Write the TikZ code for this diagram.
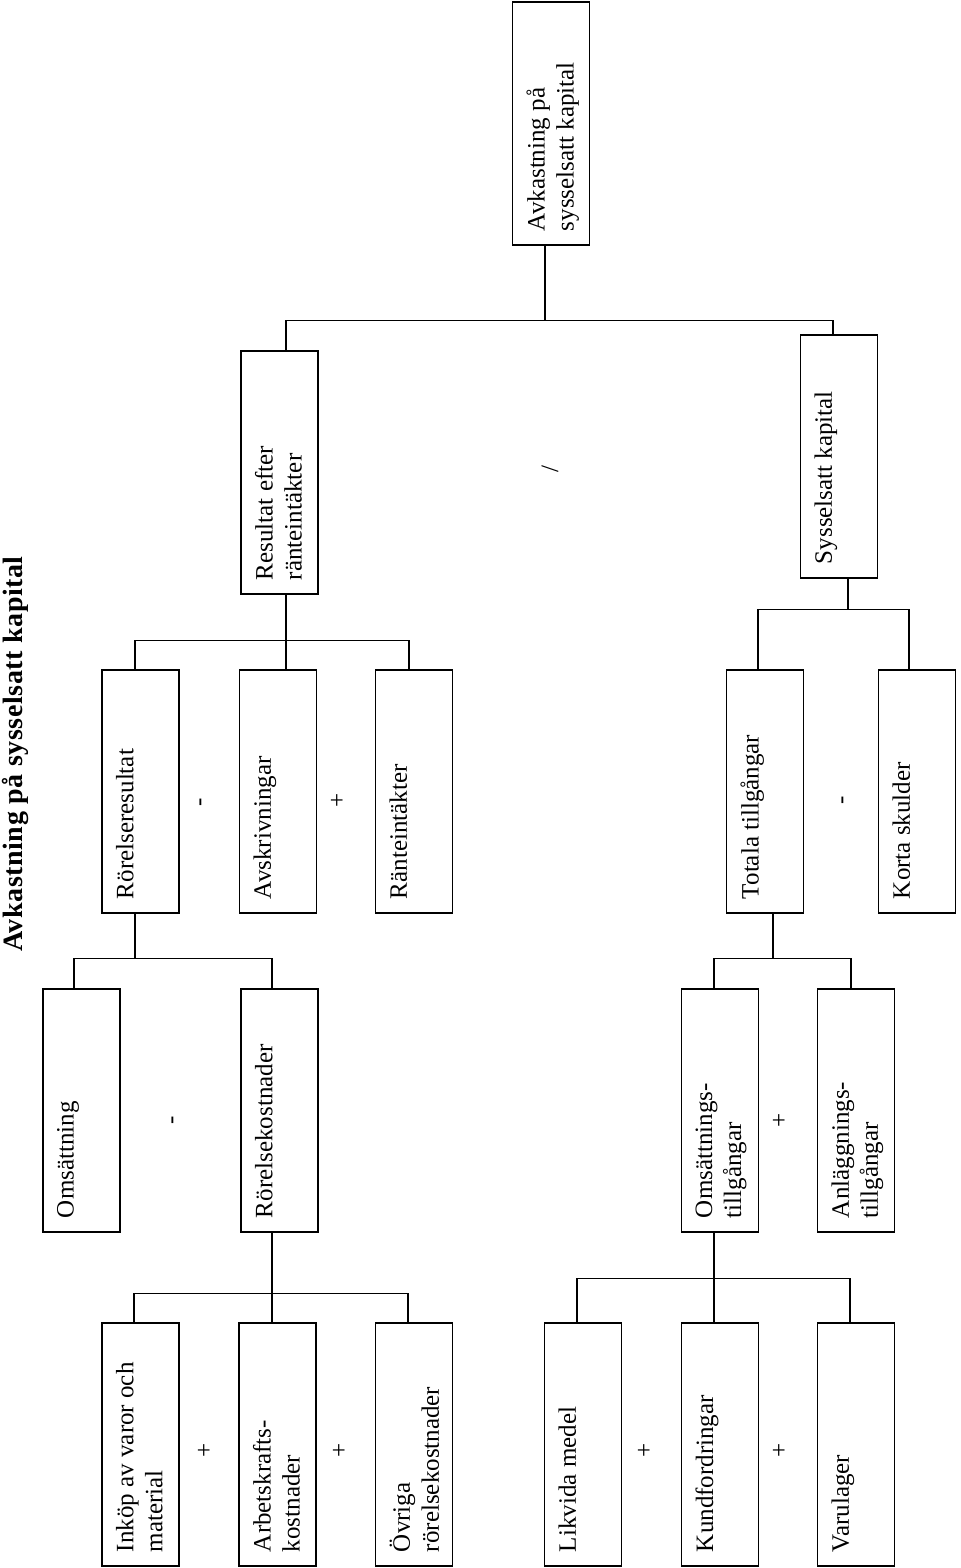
\documentclass[tikz,border=0pt]{standalone}
\usepackage{fontspec}
\setmainfont{Liberation Serif}
\usetikzlibrary{calc}

\newcommand{\boxtxt}[1]{\parbox[c][24.5pt][t]{107.5pt}{\raggedright #1}}

\tikzset{
  kbox/.style={draw, line width=0.7pt, rotate=90, inner sep=7pt,
    font=\fontsize{12.5}{14.5}\selectfont},
  sign/.style={rotate=90, inner sep=0pt, font=\fontsize{12.5}{14.5}\selectfont},
  conn/.style={line width=0.7pt}
}

\begin{document}
\begin{tikzpicture}[x=0.5pt,y=0.5pt,yscale=-1,xscale=1]
\useasboundingbox (0,0) rectangle (960,1568);
% Title
\node[rotate=90, anchor=base, inner sep=0pt,
  font=\bfseries\fontsize{14}{16}\selectfont\addfontfeature{LetterSpace=2}]
  (title) at (23,754) {Avkastning på sysselsatt kapital};
% Text Node
\node[kbox] (root) at (551,123.5) {\boxtxt{Avkastning på\\sysselsatt kapital}};
% Text Node
\node[kbox] (res) at (279.5,472.5) {\boxtxt{Resultat efter\\ränteintäkter}};
\node[kbox] (sys) at (839,456.5) {\boxtxt{Sysselsatt kapital}};
% Text Node
\node[kbox] (rr) at (140.5,791.5) {\boxtxt{Rörelseresultat}};
\node[kbox] (avs) at (278,791.5) {\boxtxt{Avskrivningar}};
\node[kbox] (rnt) at (414,791.5) {\boxtxt{Ränteintäkter}};
\node[kbox] (tot) at (765,791.5) {\boxtxt{Totala tillgångar}};
\node[kbox] (kor) at (917,791.5) {\boxtxt{Korta skulder}};
% Text Node
\node[kbox] (oms) at (81.5,1110.5) {\boxtxt{Omsättning}};
\node[kbox] (rk) at (279.5,1110.5) {\boxtxt{Rörelsekostnader}};
\node[kbox] (omt) at (720,1110.5) {\boxtxt{Omsättnings-\\tillgångar}};
\node[kbox] (anl) at (856,1110.5) {\boxtxt{Anläggnings-\\tillgångar}};
% Text Node
\node[kbox] (ink) at (140.5,1444.5) {\boxtxt{Inköp av varor och\\material}};
\node[kbox] (abk) at (277.5,1444.5) {\boxtxt{Arbetskrafts-\\kostnader}};
\node[kbox] (ovr) at (414,1444.5) {\boxtxt{Övriga\\rörelsekostnader}};
\node[kbox] (lik) at (583,1444.5) {\boxtxt{Likvida medel}};
\node[kbox] (kun) at (720,1444.5) {\boxtxt{Kundfordringar}};
\node[kbox] (var) at (856,1444.5) {\boxtxt{Varulager}};
% Signs
\node[sign] (s1) at (550,469) {/};
\node[sign] (s2) at (203,802) {-};
\node[sign] (s3) at (338,800) {+};
\node[sign] (s4) at (845,800) {-};
\node[sign] (s5) at (175,1120) {-};
\node[sign] (s6) at (780,1120) {+};
\node[sign] (s7) at (205,1450) {+};
\node[sign] (s8) at (340,1450) {+};
\node[sign] (s9) at (645,1450) {+};
\node[sign] (s10) at (780,1450) {+};
% Connection
\draw[conn] ($(root.west)+(-6,0)$) -- ++(0,75) coordinate (b1)
  -| ($(res.east)+(6.5,0)$) (b1) -| ($(sys.east)+(-6,0)$);
% Connection
\draw[conn] ($(res.west)+(6.5,0)$) -- ++(0,46) coordinate (b2)
  -| ($(rr.east)+(-5.5,0)$) (b2) -| ($(avs.east)+(8,0)$)
  (b2) -| ($(rnt.east)+(-5,0)$);
% Connection
\draw[conn] ($(sys.west)+(9,0)$) -- ++(0,31) coordinate (b3)
  -| ($(tot.east)+(-7,0)$) (b3) -| ($(kor.east)+(-8,0)$);
% Connection
\draw[conn] ($(rr.west)+(-5.5,0)$) -- ++(0,45) coordinate (b4)
  -| ($(oms.east)+(-7.5,0)$) (b4) -| ($(rk.east)+(-7.5,0)$);
% Connection
\draw[conn] ($(tot.west)+(8,0)$) -- ++(0,45) coordinate (b5)
  -| ($(omt.east)+(-6,0)$) (b5) -| ($(anl.east)+(-5,0)$);
% Connection
\draw[conn] ($(rk.west)+(-7.5,0)$) -- ++(0,61) coordinate (b6)
  -| ($(ink.east)+(-6.5,0)$) (b6) -| ($(abk.east)+(-5.5,0)$)
  (b6) -| ($(ovr.east)+(-6,0)$);
% Connection
\draw[conn] ($(omt.west)+(-6,0)$) -- ++(0,46) coordinate (b7)
  -| ($(lik.east)+(-6,0)$) (b7) -| ($(kun.east)+(-6,0)$)
  (b7) -| ($(var.east)+(-6,0)$);
\end{tikzpicture}
\end{document}
